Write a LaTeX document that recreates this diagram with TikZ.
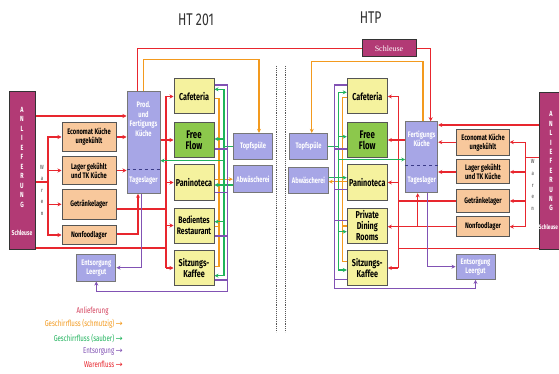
\documentclass[tikz,border=0pt]{standalone}
\usepackage{fontspec}
\setmainfont{Fira Sans}[FakeStretch=0.72]
\newfontfamily\serifschild{Liberation Serif}
\newfontfamily\pfeilfont{DejaVu Sans}
\usetikzlibrary{arrows.meta}
\definecolor{anlcol}{HTML}{B23A75}
\definecolor{lila}{HTML}{A7A6E6}
\definecolor{lagercol}{HTML}{F8C89C}
\definecolor{esscol}{HTML}{F5F29E}
\definecolor{ffcol}{HTML}{8CC84C}
\definecolor{rahmen}{HTML}{555555}
\definecolor{warecol}{HTML}{E8262E}
\definecolor{dirtycol}{HTML}{F39A1E}
\definecolor{cleancol}{HTML}{1FB35C}
\definecolor{wastecol}{HTML}{8152B4}
\definecolor{anllegcol}{HTML}{D4405C}
\tikzset{
  lagerbox/.style={draw=rahmen, line width=1pt, fill=lagercol, inner sep=1pt, align=center,
    minimum width=54pt, font=\fontsize{8}{9}\selectfont\bfseries},
  essbox/.style={draw=rahmen, line width=1pt, fill=esscol, inner sep=1pt, align=center,
    minimum width=40pt, minimum height=35pt, font=\fontsize{10}{11}\selectfont\bfseries},
  lilabox/.style={draw=rahmen!80, line width=1pt, fill=lila, inner sep=1pt, align=center,
    text=white, font=\fontsize{8}{9}\selectfont\bfseries},
  anlbox/.style={draw=rahmen!60!black, line width=1pt, fill=anlcol,
    minimum width=26pt, minimum height=157pt},
  weiss/.style={text=white, align=center, inner sep=0pt},
  legtext/.style={anchor=east, inner sep=0pt, font=\fontsize{8.5}{9}\selectfont},
  ware/.style={draw=warecol, line width=1.15pt},
  dirty/.style={draw=dirtycol, line width=1.2pt},
  clean/.style={draw=cleancol, line width=1.15pt},
  waste/.style={draw=wastecol, line width=1.15pt},
  >={Stealth[length=4pt,width=4pt]}
}
\begin{document}
\begin{tikzpicture}[x=1pt,y=-1pt]
    \useasboundingbox[fill=white] (0,0) rectangle (559,374);
    % Ueberschriften
    \node[text=black!80, font=\fontsize{17}{17}\selectfont] (ht) at (196,19.3) {HT 201};
    \node[text=black!80, font=\fontsize{17}{17}\selectfont] (htp) at (370.7,17.3) {HTP};
    \draw[densely dotted, rahmen, line width=0.9pt] (276.7,66) -- (276.7,332);
    \draw[densely dotted, rahmen, line width=0.9pt] (285.3,66) -- (285.3,332);
    % HT 201
    \node[anlbox] (anlL) at (22,170.5) {};
    \node[weiss, font=\fontsize{7.5}{9.5}\selectfont\bfseries] (anlLt) at (22,157) {A\\N\\L\\I\\E\\F\\E\\R\\U\\N\\G};
    \node[weiss, font=\fontsize{7}{7}\selectfont\bfseries] (anlLs) at (22,233) {Schleuse};
    \node[text=black!50, align=center, inner sep=0pt, font=\fontsize{6}{11.5}\selectfont\bfseries] (warLt) at (42,190) {W\\a\\r\\e\\n};
    \node[lagerbox, minimum height=28.3pt] (ecoL) at (89,137) {Economat Küche\\ungekühlt};
    \node[lagerbox, minimum height=27.6pt] (lagL) at (89,170.5) {Lager gekühlt\\und TK Küche};
    \node[lagerbox, minimum height=30pt] (getL) at (89,204.3) {Getränkelager};
    \node[lagerbox, minimum height=19.7pt] (nonL) at (89,235) {Nonfoodlager};
    \node[lilabox, minimum width=33pt, minimum height=101.6pt] (prodL) at (143.5,142.5) {};
    \node[weiss, font=\fontsize{8}{9.4}\selectfont\bfseries] (prodLt) at (143.5,119) {Prod.\\und\\Fertigungs\\Küche};
    \node[weiss, font=\fontsize{8}{8}\selectfont\bfseries] (tagL) at (143.5,180.5) {Tageslager};
    \node[lilabox, minimum width=39.3pt, minimum height=26.7pt] (entL) at (96.3,267.7) {Entsorgung\\Leergut};
    \node[essbox] (cafL) at (194,96.5) {Cafeteria};
    \node[essbox, fill=ffcol, font=\fontsize{11}{11}\selectfont\bfseries] (ffL) at (194,140) {Free\\Flow};
    \node[essbox] (panL) at (194,182.5) {Paninoteca};
    \node[essbox, font=\fontsize{9.5}{11}\selectfont\bfseries] (bedL) at (194,225.5) {Bedientes\\Restaurant};
    \node[essbox] (sitL) at (194,268) {Sitzungs-\\Kaffee};
    \node[lilabox, minimum width=39.4pt, minimum height=25.7pt] (topL) at (253,146.2) {Topfspüle};
    \node[lilabox, minimum width=39.4pt, minimum height=27pt] (abwL) at (253,179.2) {Abwäscherei};
    % HTP
    \node[draw=rahmen!60!black, line width=1pt, fill=anlcol, minimum width=54pt, minimum height=16.7pt,
      text=white, font=\serifschild\fontsize{8}{8}\selectfont] (schl) at (389,48.3) {Schleuse};
    \node[anlbox] (anlR) at (552,170.7) {};
    \node[weiss, font=\fontsize{7.5}{9.4}\selectfont\bfseries] (anlRt) at (551,161.3) {A\\N\\L\\I\\E\\F\\E\\R\\U\\N\\G};
    \node[weiss, font=\fontsize{6.5}{7}\selectfont\bfseries] (anlRs) at (548.5,226.7) {Schleuse};
    \node[text=black!50, align=center, inner sep=0pt, font=\fontsize{6}{11.6}\selectfont\bfseries] (warRt) at (532.7,185) {W\\a\\r\\e\\n};
    \node[lagerbox, minimum width=52.6pt, minimum height=25.7pt] (ecoR) at (483,142.2) {Economat Küche\\ungekühlt};
    \node[lagerbox, minimum width=52.6pt, minimum height=24pt] (lagR) at (483,172) {Lager gekühlt\\und TK Küche};
    \node[lagerbox, minimum width=52.6pt, minimum height=23.4pt] (getR) at (483,201) {Getränkelager};
    \node[lagerbox, minimum width=52.6pt, minimum height=20pt] (nonR) at (483,226.7) {Nonfoodlager};
    \node[lilabox, minimum width=32pt, minimum height=71pt] (fertR) at (421.7,157.2) {};
    \node[weiss, font=\fontsize{8}{9}\selectfont\bfseries] (fertRt) at (421.7,139) {Fertigungs\\Küche};
    \node[weiss, font=\fontsize{8}{8}\selectfont\bfseries] (tagR) at (421.7,180.7) {Tageslager};
    \node[lilabox, minimum width=39pt, minimum height=25.3pt] (entR) at (475.5,266.7) {Entsorgung\\Leergut};
    \node[essbox] (cafR) at (367.3,96.5) {Cafeteria};
    \node[essbox, fill=ffcol, font=\fontsize{11}{11}\selectfont\bfseries] (ffR) at (367.3,140) {Free\\Flow};
    \node[essbox] (panR) at (367.3,182.5) {Paninoteca};
    \node[essbox, font=\fontsize{10}{11}\selectfont\bfseries] (pdrR) at (367.3,225.5) {Private\\Dining\\Rooms};
    \node[essbox] (sitR) at (367.3,268) {Sitzungs-\\Kaffee};
    \node[lilabox, minimum width=38.4pt, minimum height=25.7pt] (topR) at (308.5,146.2) {Topfspüle};
    \node[lilabox, minimum width=39.4pt, minimum height=26.3pt] (abwR) at (308.5,180.8) {Abwäscherei};
    \draw[dashed, rahmen!70!blue, line width=0.8pt] (prodL.west |- 0,169.3) -- (prodL.east |- 0,169.3);
    \draw[dashed, rahmen!70!blue, line width=0.8pt] (fertR.west |- 0,165) -- (fertR.east |- 0,165);
    % Warenfluss HT 201
    \coordinate (warL) at (48,182);
    \coordinate (rbL) at (166,0);
    \coordinate (psL) at ([xshift=-5.5pt]prodL.south);
    \draw[ware,->] (anlL.east |- 0,116) -- (prodL.west |- 0,116);
    \draw[ware] (anlL.east |- warL) -- (warL);
    \foreach \z in {ecoL,lagL,getL,nonL}
      \draw[ware,->] (warL) |- (\z.west);
    \draw[ware,->] (ecoL.east) -- (prodL.west |- ecoL.east);
    \draw[ware,->] (lagL.east) -- (prodL.west |- lagL.east);
    \draw[ware] (getL.east |- 0,209) -- (rbL |- 0,209);
    \draw[ware,->] (nonL.east |- 0,234) -| (psL);
    \draw[ware] (anlL.east |- 0,248) -- (rbL |- 0,248);
    \draw[ware] (rbL |- cafL.west) -- (rbL |- sitL.west);
    \foreach \z in {cafL,panL,bedL,sitL}
      \draw[ware,->] (rbL |- \z.west) -- (\z.west);
    \draw[ware,->] (prodL.east |- ffL.west) -- (ffL.west);
    \draw[ware] (schl.west) -| ([xshift=-6pt]prodL.north);
    % Geschirr HT 201
    \coordinate (oL) at (200,59.5);
    \coordinate (gbL) at (224,0);
    \coordinate (obL) at (219,0);
    \coordinate (pbL) at (227.5,291.7);
    \draw[dirty,->] (prodL.north) |- (oL) -| ([xshift=6pt]topL.north);
    \foreach \z/\y in {cafL/98.3, bedL/226.7, sitL/266.7}
      \draw[dirty] (\z.east |- 0,\y) -| (obL |- abwL.west);
    \draw[dirty,->] (panL.east |- abwL.west) -- (abwL.west);
    \draw[clean] (topL.west) -- (gbL |- topL.west);
    \draw[clean] (abwL.west |- 0,185) -- (gbL |- 0,185);
    \draw[clean] (gbL |- 0,89.3) -- (gbL |- 0,275.7);
    \foreach \z/\y in {cafL/89.3, ffL/139, panL/185, bedL/221.7, sitL/275.7}
      \draw[clean,->] (gbL |- 0,\y) -- (\z.east |- 0,\y);
    \draw[clean,->] (gbL |- 0,160.7) -- (prodL.east |- 0,160.7);
    % Entsorgung HT 201
    \foreach \z/\y in {cafL/85, ffL/149, panL/192.3, bedL/236, sitL/280}
      \draw[waste] (\z.east |- 0,\y) -| (pbL);
    \draw[waste,->] (pbL) -| (entL.south);
    \draw[waste,->] ([xshift=-1.8pt]prodL.south) |- (entL.east);
    % Warenfluss HTP
    \coordinate (warR) at (525.7,157.3);
    \coordinate (rbR) at (398.3,0);
    \coordinate (fsR) at ([xshift=-4pt]fertR.south);
    \draw[ware,->] (anlR.west |- 0,125) -- (fertR.east |- 0,125);
    \draw[ware] (anlR.west |- warR) -- (warR);
    \foreach \z in {ecoR,lagR,getR,nonR}
      \draw[ware,->] (warR) |- (\z.east);
    \draw[ware,->] (ecoR.west) -- (fertR.east |- ecoR.west);
    \draw[ware,->] (lagR.west) -- (fertR.east |- lagR.west);
    \draw[ware] (rbR |- cafR.east) -- (rbR |- sitR.east);
    \foreach \z in {cafR,panR,sitR}
      \draw[ware,->] (rbR |- \z.east) -- (\z.east);
    \draw[ware] (getR.west) -- (rbR |- getR.west);
    \draw[ware,->] (nonR.west) -- (pdrR.east |- nonR.west);
    \draw[ware,->] (fsR |- nonR.west) -- (fsR);
    \draw[ware] (anlR.west |- 0,248.3) -- (rbR |- 0,248.3);
    \draw[ware,->] (fertR.west |- ffR.east) -- (ffR.east);
    \draw[ware,->] (schl.east) -| ([xshift=9pt]fertR.north);
    % Geschirr HTP
    \coordinate (oR) at (370,61.5);
    \coordinate (gbR) at (338.3,0);
    \coordinate (obR) at (342.3,0);
    \coordinate (pbR) at (334.3,288.3);
    \draw[dirty,->] ([xshift=1.3pt]fertR.north) |- (oR) -| ([xshift=3.2pt]topR.north);
    \foreach \z/\y in {cafR/97.3, pdrR/226, sitR/261.7}
      \draw[dirty] (\z.west |- 0,\y) -| (obR |- 0,181.7);
    \draw[dirty,->] (panR.west |- 0,181.7) -- (abwR.east |- 0,181.7);
    \draw[clean] (topR.east) -- (gbR |- topR.east);
    \draw[clean] (abwR.east |- 0,177.7) -- (gbR |- 0,177.7);
    \draw[clean] (gbR |- 0,92.3) -- (gbR |- 0,270);
    \foreach \z/\y in {cafR/92.3, ffR/136.7, panR/177.7, pdrR/231.7, sitR/270}
      \draw[clean,->] (gbR |- 0,\y) -- (\z.west |- 0,\y);
    \draw[clean,->] (gbR |- 0,159.5) -- (fertR.west |- 0,159.5);
    % Entsorgung HTP
    \foreach \z/\y in {cafR/85, ffR/149, panR/189.3, pdrR/220.7, sitR/279.3}
      \draw[waste] (\z.west |- 0,\y) -| (pbR);
    \draw[waste,->] (pbR) -| (entR.south);
    \draw[waste,->] ([xshift=6pt]fertR.south) |- (entR.west);
    % Legende
    \node[legtext, text=anllegcol] (lg1) at (108.7,310.7) {Anlieferung};
    \node[legtext, text=dirtycol] (lg2) at (123,324.3) {Geschirrfluss (schmutzig)\,{\pfeilfont →}};
    \node[legtext, text=cleancol] (lg3) at (123,338.3) {Geschirrfluss (sauber)\,{\pfeilfont →}};
    \node[legtext, text=wastecol] (lg4) at (123,351) {Entsorgung\,{\pfeilfont →}};
    \node[legtext, text=warecol] (lg5) at (123,364) {Warenfluss\,{\pfeilfont →}};
\end{tikzpicture}
\end{document}
